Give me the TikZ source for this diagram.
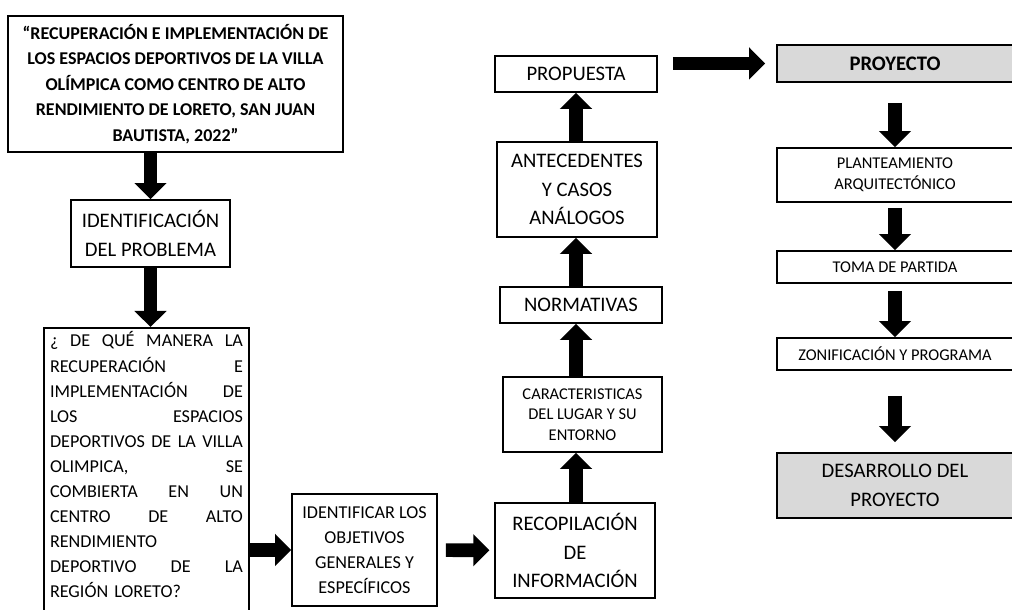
\documentclass[tikz,border=0pt]{standalone}
\usepackage{fontspec}
\setmainfont{Carlito}
\usetikzlibrary{arrows.meta}
\newcommand{\renglon}[1]{\leavevmode\hbox to 4.825cm{\spaceskip=0.25em plus 1fil\relax #1}}

\begin{document}
\begin{tikzpicture}[
	caja/.style={draw, line width=1.2pt, align=center, inner sep=2pt},
	gris/.style={caja, fill=black!15},
	grande/.style={font=\fontsize{14.7}{20.3}\selectfont},
	media/.style={font=\fontsize{12.9}{17.8}\selectfont},
	chica/.style={font=\fontsize{11.7}{15.3}\selectfont},
	flecha/.style={line width=0.34cm, -{Triangle[width=0.78cm,length=0.4cm]}}
	]
			%%%%% START %%%%%
			\useasboundingbox (0, 0) rectangle (25.3, 15.25);
			\clip (0, 0) rectangle (25.3, 15.25);
			
			\node[caja, minimum width=8.375cm, minimum height=3.4cm, font=\bfseries\fontsize{12.8}{18.1}\selectfont] (titulo) at (4.3875, 13.15) {“RECUPERACIÓN E IMPLEMENTACIÓN DE\\LOS ESPACIOS DEPORTIVOS DE LA VILLA\\OLÍMPICA COMO CENTRO DE ALTO\\RENDIMIENTO DE LORETO, SAN JUAN\\BAUTISTA, 2022”};
			\node[caja, grande, minimum width=3.975cm, minimum height=1.675cm] (problema) at (3.7625, 9.4125) {IDENTIFICACIÓN\\DEL PROBLEMA};
			\node[caja, media, anchor=north, align=left, text width=4.825cm, inner xsep=0.15cm, inner ysep=0.1cm, text depth=7.5cm] (pregunta) at (3.6625, 7.075) {\renglon{¿ DE QUÉ MANERA LA}\\
				\renglon{RECUPERACIÓN E}\\
				\renglon{IMPLEMENTACIÓN DE}\\
				\renglon{LOS ESPACIOS}\\
				\renglon{DEPORTIVOS DE LA VILLA}\\
				\renglon{OLIMPICA, SE}\\
				\renglon{COMBIERTA EN UN}\\
				\renglon{CENTRO DE ALTO}\\
				RENDIMIENTO\\
				\renglon{DEPORTIVO DE LA}\\
				REGIÓN LORETO?};
			\node[caja, media, minimum width=3.625cm, minimum height=2.8cm] (objetivos) at (9.1125, 1.5) {IDENTIFICAR LOS\\OBJETIVOS\\GENERALES Y\\ESPECÍFICOS};
			
			\node[caja, grande, minimum width=4.0cm, minimum height=2.375cm] (recopilacion) at (14.375, 1.4875) {RECOPILACIÓN\\DE\\INFORMACIÓN};
			\node[caja, font=\fontsize{11.7}{14.6}\selectfont, minimum width=3.975cm, minimum height=1.875cm] (caracteristicas) at (14.5625, 4.8875) {CARACTERISTICAS\\DEL LUGAR Y SU\\ENTORNO};
			\node[caja, grande, minimum width=4.05cm, minimum height=0.9cm] (normativas) at (14.525, 7.625) {NORMATIVAS};
			\node[caja, grande, minimum width=4.0cm, minimum height=2.375cm] (antecedentes) at (14.425, 10.5125) {ANTECEDENTES\\Y CASOS\\ANÁLOGOS};
			\node[caja, grande, minimum width=4.05cm, minimum height=0.9cm] (propuesta) at (14.4, 13.4) {PROPUESTA};
			
			\node[gris, font=\bfseries\fontsize{14.7}{20.3}\selectfont, minimum width=5.9cm, minimum height=0.925cm] (proyecto) at (22.375, 13.6625) {PROYECTO};
			\node[caja, chica, minimum width=5.9cm, minimum height=1.35cm] (planteamiento) at (22.375, 10.875) {PLANTEAMIENTO\\ARQUITECTÓNICO};
			\node[caja, chica, minimum width=5.9cm, minimum height=0.8cm] (toma) at (22.375, 8.575) {TOMA DE PARTIDA};
			\node[caja, chica, minimum width=5.9cm, minimum height=0.8cm] (zonificacion) at (22.375, 6.4) {ZONIFICACIÓN Y PROGRAMA};
			\node[gris, grande, minimum width=5.9cm, minimum height=1.625cm] (desarrollo) at (22.375, 3.1125) {DESARROLLO DEL\\PROYECTO};
			
			%%%%% FLECHAS %%%%%
			\draw[flecha] (titulo.south -| problema.north) -- (problema.north);
			\draw[flecha] (problema.south) -- (problema.south |- pregunta.north);
			\draw[flecha] (pregunta.east |- objetivos.west) -- (objetivos.west);
			\draw[flecha, shorten <=0.2cm, shorten >=0.12cm] (objetivos) -- (recopilacion);
			
			\draw[flecha] (recopilacion.north -| propuesta) -- (caracteristicas.south -| propuesta);
			\draw[flecha] (caracteristicas.north -| propuesta) -- (normativas.south -| propuesta);
			\draw[flecha] (normativas.north -| propuesta) -- (antecedentes.south -| propuesta);
			\draw[flecha] (antecedentes.north -| propuesta) -- (propuesta.south);
			
			\draw[flecha, shorten <=0.375cm, shorten >=0.275cm] (propuesta.east |- proyecto.west) -- (proyecto.west);
			\draw[flecha, shorten <=0.5cm] (proyecto) -- (planteamiento);
			\draw[flecha, shorten <=0.125cm] (planteamiento) -- (toma);
			\draw[flecha, shorten <=0.175cm] (toma) -- (zonificacion);
			\draw[flecha, shorten <=0.625cm, shorten >=0.25cm] (zonificacion) -- (desarrollo);
			
			%%%%% END %%%%%
\end{tikzpicture}
\end{document}
